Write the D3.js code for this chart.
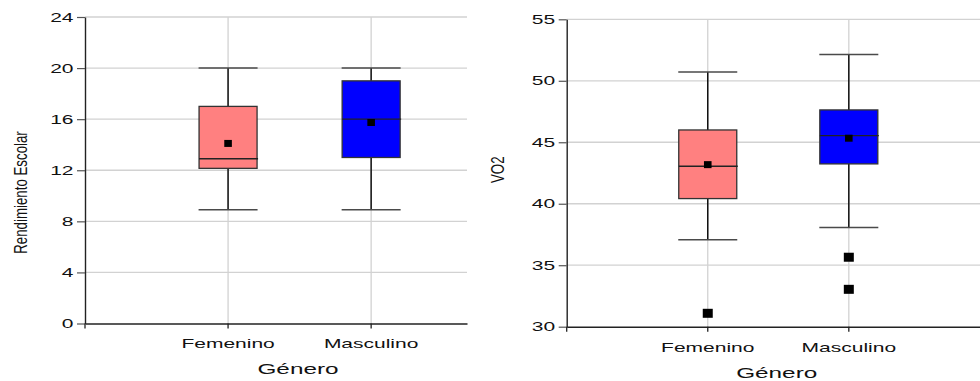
<!DOCTYPE html>
<html>
<head>
<meta charset="utf-8">
<script src="https://cdn.jsdelivr.net/npm/d3@7"></script>
<style>
  html, body { margin: 0; padding: 0; background: #fff; }
  svg { display: block; }
  text { font-family: "Liberation Sans", Arial, sans-serif; fill: #111; }
</style>
</head>
<body>
<svg id="chart" width="980" height="381"></svg>
<script>
// Categories shared by both panels
const categories = ["Femenino", "Masculino"];
const boxColors = ["#FF8080", "#0000FF"];

// Rendimiento Escolar by género: whiskers, quartiles, median, mean
const rendLow    = [8.9, 8.9];
const rendQ1     = [12.15, 13.0];
const rendMedian = [12.9, 16.0];
const rendQ3     = [17.0, 19.0];
const rendHigh   = [20.0, 20.0];
const rendMean   = [14.1, 15.74];
const rendOutliers = [[], []];
const rendTicks  = [0, 4, 8, 12, 16, 20, 24];

// VO2 by género
const vo2Low    = [37.08, 38.06];
const vo2Q1     = [40.42, 43.24];
const vo2Median = [43.05, 45.54];
const vo2Q3     = [46.0, 47.63];
const vo2High   = [50.72, 52.13];
const vo2Mean   = [43.18, 45.33];
const vo2Outliers = [[31.09], [35.65, 33.04]];
const vo2Ticks  = [30, 35, 40, 45, 50, 55];

const svg = d3.select("#chart");
svg.append("rect").attr("width", 980).attr("height", 381).attr("fill", "#fff");

// The whole figure is rendered horizontally widened; text is scaled to match
const TICK_SX = 1.75, XTITLE_SX = 1.57, YTITLE_SX = 1.45;

function panel(cfg) {
  const g = svg.append("g");
  const x = d3.scaleLinear().domain([0, cfg.xMax]).range([cfg.left, cfg.right]);
  const y = d3.scaleLinear().domain(cfg.yDomain).range([cfg.bottom, cfg.top]);

  // horizontal grid
  g.selectAll(".hgrid").data(cfg.ticks.slice(1)).join("line")
    .attr("x1", cfg.left).attr("x2", cfg.right)
    .attr("y1", d => y(d)).attr("y2", d => y(d))
    .attr("stroke", "#d2d2d2").attr("stroke-width", 1.3);
  // vertical grid at categories
  g.selectAll(".vgrid").data(categories).join("line")
    .attr("x1", (d, i) => x(i + 1)).attr("x2", (d, i) => x(i + 1))
    .attr("y1", cfg.top).attr("y2", cfg.bottom)
    .attr("stroke", "#d2d2d2").attr("stroke-width", 1.3);

  // y axis
  const yAxis = g.append("g").attr("transform", `translate(${cfg.left},0)`)
    .call(d3.axisLeft(y).tickValues(cfg.ticks).tickSize(8).tickSizeOuter(0));
  yAxis.select(".domain").attr("stroke", "#222").attr("stroke-width", 1.4);
  yAxis.selectAll(".tick line").attr("stroke", "#555").attr("stroke-width", 1.2);
  yAxis.selectAll(".tick text")
    .attr("font-size", 12).attr("font-family", "Liberation Sans, Arial, sans-serif")
    .attr("fill", "#111")
    .attr("x", -11.5 / TICK_SX).attr("dy", "0.35em")
    .attr("transform", `scale(${TICK_SX},1)`);

  // x axis
  const labels = [""].concat(categories);
  const xAxis = g.append("g").attr("transform", `translate(0,${cfg.bottom})`)
    .call(d3.axisBottom(x).tickValues([0, 1, 2]).tickFormat(i => labels[i])
      .tickSize(5).tickSizeOuter(0));
  xAxis.select(".domain").attr("stroke", "#222").attr("stroke-width", 1.4);
  xAxis.selectAll(".tick line").attr("stroke", "#222").attr("stroke-width", 1.3);
  xAxis.selectAll(".tick").each(function (d) {
    const t = d3.select(this);
    const tx = x(d);
    t.attr("transform", null);
    t.select("line").attr("x1", tx).attr("x2", tx);
    t.select("text")
      .attr("font-size", 12).attr("font-family", "Liberation Sans, Arial, sans-serif")
      .attr("fill", "#111").attr("x", null).attr("y", null).attr("dy", null)
      .attr("text-anchor", "middle")
      .attr("transform", `translate(${tx},${cfg.xLabelOffset}) scale(${TICK_SX},1)`);
  });

  // axis titles
  g.append("text").text("Género")
    .attr("font-size", 15.5).attr("text-anchor", "middle")
    .attr("transform", `translate(${cfg.xTitleX},${cfg.xTitleY}) scale(${XTITLE_SX},1)`);
  g.append("text").text(cfg.yTitle)
    .attr("font-size", 13.3).attr("text-anchor", "middle")
    .attr("transform", `translate(${cfg.yTitleX},${cfg.yTitleY}) scale(${YTITLE_SX},1) rotate(-90)`);

  // boxes
  const boxW = 58, capW = 59;
  const d = categories.map((c, i) => ({
    i, low: cfg.low[i], q1: cfg.q1[i], med: cfg.median[i], q3: cfg.q3[i],
    high: cfg.high[i], mean: cfg.mean[i], out: cfg.outliers[i]
  }));
  const bx = g.selectAll(".box").data(d).join("g");
  // whiskers
  bx.append("line")
    .attr("x1", e => x(e.i + 1)).attr("x2", e => x(e.i + 1))
    .attr("y1", e => y(e.high)).attr("y2", e => y(e.q3))
    .attr("stroke", "#111").attr("stroke-width", 1.5);
  bx.append("line")
    .attr("x1", e => x(e.i + 1)).attr("x2", e => x(e.i + 1))
    .attr("y1", e => y(e.q1)).attr("y2", e => y(e.low))
    .attr("stroke", "#111").attr("stroke-width", 1.5);
  // caps
  ["high", "low"].forEach(k => {
    bx.append("line")
      .attr("x1", e => x(e.i + 1) - capW / 2).attr("x2", e => x(e.i + 1) + capW / 2)
      .attr("y1", e => y(e[k])).attr("y2", e => y(e[k]))
      .attr("stroke", "#4a4a4a").attr("stroke-width", 1.5);
  });
  // box body
  bx.append("rect")
    .attr("x", e => x(e.i + 1) - boxW / 2).attr("width", boxW)
    .attr("y", e => y(e.q3)).attr("height", e => y(e.q1) - y(e.q3))
    .attr("fill", e => boxColors[e.i])
    .attr("stroke", "#333").attr("stroke-width", 1.3);
  // median
  bx.append("line")
    .attr("x1", e => x(e.i + 1) - boxW / 2).attr("x2", e => x(e.i + 1) + boxW / 2 + 1)
    .attr("y1", e => y(e.med)).attr("y2", e => y(e.med))
    .attr("stroke", "#222").attr("stroke-width", 1.3);
  // mean
  bx.append("rect")
    .attr("x", e => x(e.i + 1) - 3.8).attr("y", e => y(e.mean) - 3.5)
    .attr("width", 7.6).attr("height", 7)
    .attr("fill", "#000");
  // outliers
  bx.each(function (e) {
    d3.select(this).selectAll(".out").data(e.out).join("rect")
      .attr("x", x(e.i + 1) - 5).attr("y", v => y(v) - 4.5)
      .attr("width", 10).attr("height", 9).attr("fill", "#000");
  });
}

panel({
  left: 85, right: 467, top: 17, bottom: 323.5, xMax: 2.67,
  yDomain: [0, 24], ticks: rendTicks,
  low: rendLow, q1: rendQ1, median: rendMedian, q3: rendQ3, high: rendHigh,
  mean: rendMean, outliers: rendOutliers,
  xLabelOffset: 24.8, xTitleX: 298, xTitleY: 373.5,
  yTitle: "Rendimiento Escolar", yTitleX: 26.5, yTitleY: 192.5
});

panel({
  left: 566.7, right: 980, top: 19.3, bottom: 326.7, xMax: 2.93,
  yDomain: [30, 55], ticks: vo2Ticks,
  low: vo2Low, q1: vo2Q1, median: vo2Median, q3: vo2Q3, high: vo2High,
  mean: vo2Mean, outliers: vo2Outliers,
  xLabelOffset: 25, xTitleX: 776.7, xTitleY: 378,
  yTitle: "VO2", yTitleX: 504, yTitleY: 169.7
});
</script>
</body>
</html>
